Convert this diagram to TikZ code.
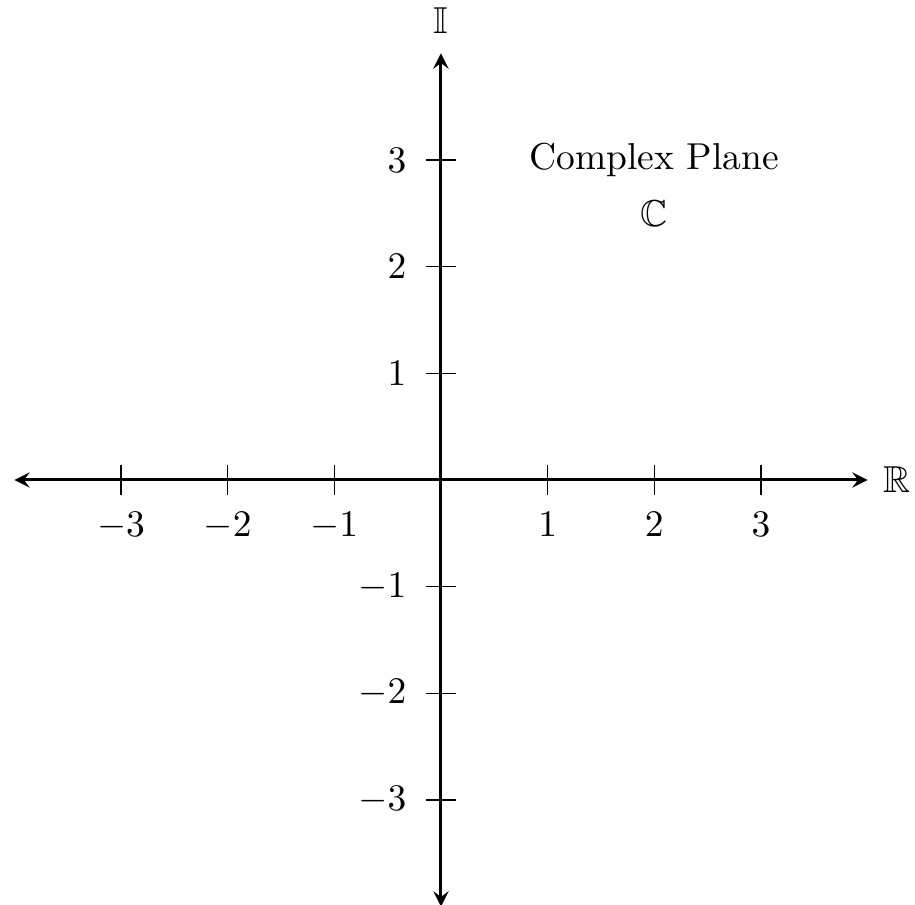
\documentclass[tikz,border=0pt]{standalone}
\usepackage{amssymb}
\begin{document}
\begin{tikzpicture}[>=stealth,
  axis/.style={thick,<->},
  tick/.style={line width=0.4pt},
  ticklabel/.style={inner sep=3.33pt}]
\useasboundingbox (-4.134,-3.984) rectangle (4.444,4.5);
\coordinate (xl) at (-4,0);
\coordinate (xr) at (4,0);
\coordinate (yb) at (0,-4);
\coordinate (yt) at (0,4);
\draw[axis] (xl) -- (xr);
\draw[axis] (yb) -- (yt);
\node (R) at (4.28,0) {$\mathbb{R}$};
\node (I) at (0,4.31) {$\mathbb{I}$};
\foreach \v/\n in {-3/xm3,-2/xm2,-1/xm1,1/x1,2/x2,3/x3} {
  \draw[tick] (\v,4pt) -- (\v,-4pt);
  \node[ticklabel,anchor=north] (\n) at (\v,-0.18) {$\v$};
}
\foreach \v/\n in {-3/ym3,-2/ym2,-1/ym1,1/y1,2/y2,3/y3} {
  \draw[tick] (-4pt,\v) -- (4pt,\v);
  \node[ticklabel,anchor=east] (\n) at (-0.2,\v) {$\v$};
}
\node (title) at (2,3) {Complex Plane};
\node (C) at (2,2.5) {$\mathbb{C}$};
\end{tikzpicture}
\end{document}
